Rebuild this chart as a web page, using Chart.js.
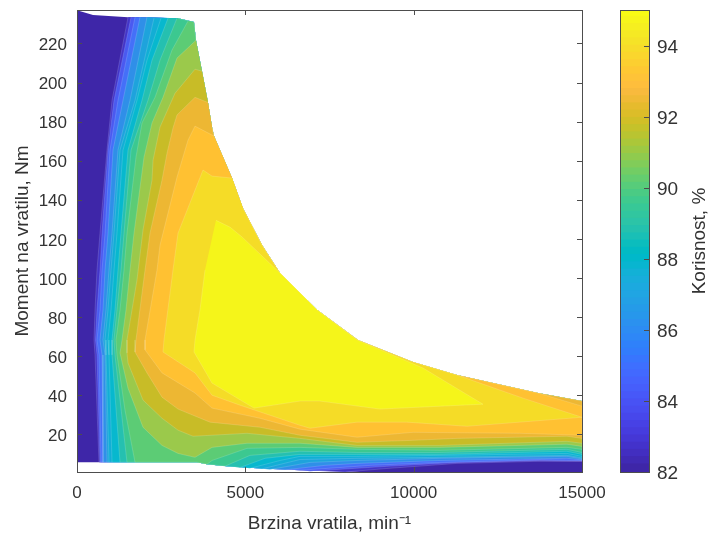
<!DOCTYPE html>
<html>
<head>
<meta charset="utf-8">
<style>
html,body{margin:0;padding:0;background:#fff;}
#wrap{position:relative;width:712px;height:538px;}
canvas{position:absolute;top:0;}
#main{left:0;}
#bar{left:600px;}
</style>
<script src="https://cdn.jsdelivr.net/npm/chart.js@4/dist/chart.umd.js"></script>
</head>
<body>
<div id="wrap"><canvas id="main" width="712" height="538"></canvas><canvas id="bar" width="112" height="538"></canvas></div>
<script>
const xTicks = [0, 5000, 10000, 15000];
const yTicks = [20, 40, 60, 80, 100, 120, 140, 160, 180, 200, 220];
const barTicks = [82, 84, 86, 88, 90, 92, 94];
const xLabel = 'Brzina vratila, min\u207B\u00B9';
const yLabel = 'Moment na vratilu, Nm';
const barLabel = 'Korisnost, %';

// operating-region boundary (speed min^-1, torque Nm)
const outline = [[0,237],[475,234.5],[1515,233.4],[3000,232.9],[3475,230.9],[3534,221.6],[3713,205.8],[3891,189.8],[4010,177.2],[4069,172.6],[4604,151.1],[4930,135.7],[5495,116.8],[6029,102.5],[7128,83.7],[8346,68.3],[9979,57],[11286,50.3],[13692,41.1],[15000,37]];
const floorLine = [[15000,0.7],[8405,0.7],[6623,1.6],[5346,2.6],[4455,3.7],[3861,4.7],[3564,5.7],[0,5.7]];

// iso-efficiency lines: left arm and (where the line meets the floor) right arm
const iso83 = [[1515,233.4],[1040,190.9],[891,165.4],[683,122.9],[594,104],[535,83.7],[505,68.3],[535,60.6],[653,5.7]];
const arm83 = [[7960,0.7],[9207,2.5],[11286,5.1],[13543,6.1],[15000,6.1]];
const iso84 = [[1604,233.4],[1099,190.9],[921,165.4],[743,122.9],[683,104],[594,83.7],[549,68.3],[594,60.6],[683,5.7]];
const arm84 = [[6920,1.1],[9207,3.6],[11286,5.6],[13751,6.6],[15000,6.3]];
const iso85 = [[1723,233.4],[1218,190.9],[980,165.4],[832,122.9],[743,104],[683,83.7],[594,68.3],[653,60.6],[713,5.7]];
const arm85 = [[6623,1.6],[7811,3],[8702,4.1],[10781,5.6],[13751,6.9],[15000,6.6]];
const iso86 = [[1871,233.4],[1366,190.9],[1069,165.4],[921,122.9],[832,104],[772,83.7],[683,68.3],[743,60.6],[772,5.7]];
const arm86 = [[6178,1.8],[7366,4.1],[8316,5.1],[10781,6.6],[14553,7.7],[15000,6.9]];
const iso87 = [[2079,233.4],[1574,190.9],[1218,165.4],[1040,122.9],[950,104],[861,83.7],[772,68.3],[832,60.6],[891,5.7]];
const arm87 = [[5732,2],[6920,5.6],[8316,6.6],[10781,7.7],[14553,8.7],[15000,7.4]];
const iso875 = [[2287,232.9],[1723,190.9],[1277,165.4],[1099,122.9],[1010,104],[921,83.7],[832,68.3],[861,60.6],[950,5.7]];
const arm875 = [[5495,2.3],[6623,7.1],[8316,7.7],[10781,8.2],[14553,9.2],[15000,7.9]];
const iso88 = [[2495,232.9],[2079,211.4],[1782,190.9],[1366,165.4],[1188,122.9],[1099,104],[1010,83.7],[921,68.3],[950,60.6],[1040,5.7]];
const arm88 = [[5138,2.6],[6029,6.6],[6623,8.7],[8316,8.7],[10781,9.2],[14553,10.2],[15000,8.7]];
const iso888 = [[2703,232.9],[2228,211.4],[1931,190.9],[1515,165.4],[1307,122.9],[1218,104],[1129,83.7],[1040,68.3],[1040,60.6],[1277,5.7]];
const arm888 = [[4841,3],[5584,7.7],[6623,9.7],[8316,9.7],[10781,9.7],[14553,11.3],[15000,9.7]];
const iso896 = [[2970,232.9],[2465,211.4],[2109,190.9],[1604,165.4],[1396,122.9],[1307,104],[1188,83.7],[1099,68.3],[1129,60.6],[1485,5.7]];
const arm896 = [[4396,3.7],[5138,9.2],[6623,11.3],[8316,10.7],[10781,10.7],[14553,12.3],[15000,10.7]];
const iso90 = [[3297,231.4],[2822,216.6],[2317,192.4],[1931,179.3],[1752,161.8],[1485,122.9],[1396,104],[1277,83.7],[1158,68.3],[1188,60.6],[1426,32.3],[1723,5.7]];
const arm90 = [[3861,4.7],[4010,6.6],[5049,12.8],[6623,13.3],[8316,12.3],[10781,11.8],[14553,13.3],[15000,12.3]];
const iso91 = [[3534,221.6],[2970,212.5],[2554,192.4],[2228,179.3],[1990,161.8],[1693,122.9],[1574,104],[1455,83.7],[1337,68.3],[1277,61.6],[1515,43.6],[1960,23.6],[2525,14.3],[3000,10.2],[3505,8.2],[4010,13.3],[5049,15.4],[6623,15.4],[8316,13.3],[10781,13.3],[14553,14.9],[15000,13.8]];
const iso92 = [[3713,205.8],[3505,206.8],[2911,194.5],[2465,177.2],[2258,160.2],[2228,150.1],[1960,124.5],[1782,99],[1485,68.3],[1485,61.6],[1515,56.5],[1960,37.5],[2525,28.2],[3000,22.1],[3445,19],[5049,20.5],[6623,17.9],[8316,14.3],[10781,14.3],[14553,16.4],[15000,15.4]];
const iso925 = [[3891,189.8],[3505,192.4],[2970,183.4],[2851,176.7],[2673,163.8],[2525,150.1],[2168,122.9],[2020,104],[1752,68.3],[1723,62.1],[2079,51.4],[2525,39],[3000,32.9],[3950,26.2],[5435,23.6],[6623,19.5],[8316,15.9],[9979,16.9],[11286,17.9],[14553,19],[15000,17.9]];
const iso93 = [[4069,172.6],[3505,177.7],[3297,170.5],[2970,151.6],[2465,116.8],[2376,104],[2020,68.3],[2020,63.2],[2525,51.4],[3505,41.1],[4010,33.4],[5435,28.2],[6623,22.6],[8316,18.5],[9979,21],[13157,20.5],[15000,19.5],[15000,34.4],[13692,41.1]];
const iso94 = [[4604,151.1],[4010,152.1],[3742,155.2],[3000,122.9],[2851,104],[2584,68.3],[2554,62.1],[3505,51.4],[4010,40],[4841,34.9],[6623,24.6],[6920,23.1],[8316,26.2],[9801,26.2],[11583,24.1],[15000,28.7],[13246,38.5],[11286,50.3]];
const iso95 = [[4128,129.5],[4544,126],[4901,121],[6029,102.5],[7128,83.7],[8316,68.3],[10276,53.9],[12058,35.4],[8999,32.9],[7217,37],[6623,37],[5257,33.4],[4010,46.2],[3475,62.1],[3505,68.3],[3653,83.7],[3802,104]];

const parula = [[.2422,.1504,.6603],[.2504,.165,.7076],[.2578,.1818,.7511],[.2647,.1978,.7952],[.2706,.2147,.8364],[.2751,.2342,.871],[.2783,.2559,.8991],[.2803,.2782,.9221],[.2813,.3006,.9414],[.281,.3228,.9579],[.2795,.3447,.9717],[.276,.3667,.9829],[.2699,.3892,.9906],[.2602,.4123,.9952],[.244,.4358,.9988],[.2206,.4603,.9973],[.1963,.4847,.9892],[.1834,.5074,.9798],[.1786,.5289,.9682],[.1764,.5499,.952],[.1687,.5703,.9359],[.154,.5902,.9218],[.146,.6091,.9079],[.138,.6276,.8973],[.1248,.6459,.8883],[.1113,.6635,.8763],[.0952,.6798,.8598],[.0689,.6948,.8394],[.0297,.7082,.8163],[.0036,.7203,.7917],[.0067,.7312,.766],[.0433,.7411,.7394],[.0964,.75,.712],[.1408,.7584,.6842],[.1717,.767,.6554],[.1938,.7758,.6251],[.2161,.7843,.5923],[.247,.7918,.5567],[.2906,.7973,.5188],[.3406,.8008,.4789],[.3909,.8029,.4354],[.4456,.8024,.3909],[.5044,.7993,.348],[.5616,.7942,.3045],[.6174,.7876,.2612],[.672,.7793,.2227],[.7242,.7698,.191],[.7738,.7598,.1646],[.8203,.7498,.1535],[.8634,.7406,.1596],[.9035,.733,.1774],[.9393,.7288,.21],[.9728,.7298,.2394],[.9956,.7434,.2371],[.997,.7659,.2199],[.9952,.7861,.199],[.9892,.8136,.1885],[.9786,.8386,.1766],[.9676,.8639,.1643],[.961,.889,.1537],[.9597,.9135,.1423],[.9628,.9373,.1265],[.9691,.9606,.1064],[.9769,.9839,.0805]];
const rgb = c => 'rgb(' + c.map(v => Math.round(v * 255)).join(',') + ')';

function region(iso, arm) {
  const pts = iso.slice();
  if (arm) {
    const x1 = iso[iso.length - 1][0], x2 = arm[0][0];
    pts.push(...floorLine.filter(p => p[0] > x1 && p[0] < x2).reverse());
    pts.push(...arm);
  }
  const xs = iso[0][0], xe = pts[pts.length - 1][0];
  pts.push(...outline.filter(p => p[0] > xs && p[0] <= xe).reverse());
  return pts;
}

const bands = [
  ['<82', outline.concat(floorLine), '#3E26A8'],
  ['83', region(iso83, arm83), '#4335C8'],
  ['84', region(iso84, arm84), '#4A5AF0'],
  ['85', region(iso85, arm85), '#4470F8'],
  ['86', region(iso86, arm86), '#2F8FE8'],
  ['87', region(iso87, arm87), '#1EA3DC'],
  ['87.5', region(iso875, arm875), '#12AED5'],
  ['88', region(iso88, arm88), '#07B8CE'],
  ['88.8', region(iso888, arm888), '#25C0B0'],
  ['89.6', region(iso896, arm896), '#3CC890'],
  ['90', region(iso90, arm90), '#5CCC75'],
  ['91', region(iso91), '#9BC94B'],
  ['92', region(iso92), '#C8BC27'],
  ['92.5', region(iso925), '#EDB733'],
  ['93', region(iso93), '#FFC132'],
  ['94', region(iso94), '#F5DC27'],
  ['95', iso95, '#F5F51A']
];

const FONT = 'Liberation Sans';
const TXT = '#333333';
const FRAME = '#4d4d4d';

const framePlugin = {
  id: 'frame',
  afterDraw(chart) {
    const {ctx, chartArea: a, scales} = chart;
    ctx.save();
    ctx.strokeStyle = FRAME;
    ctx.lineWidth = 1;
    ctx.strokeRect(a.left + .5, a.top + .5, a.right - a.left, a.bottom - a.top);
    ctx.beginPath();
    for (const t of scales.x.ticks || []) {
      if (chart.canvas.id !== 'main') break;
      const x = Math.round(scales.x.getPixelForValue(t.value)) + .5;
      ctx.moveTo(x, a.bottom); ctx.lineTo(x, a.bottom - 5);
      ctx.moveTo(x, a.top); ctx.lineTo(x, a.top + 5);
    }
    for (const t of scales.y.ticks) {
      const y = Math.round(scales.y.getPixelForValue(t.value)) + .5;
      if (chart.canvas.id === 'main') { ctx.moveTo(a.left, y); ctx.lineTo(a.left + 5, y); }
      ctx.moveTo(a.right, y); ctx.lineTo(a.right - 5, y);
    }
    ctx.stroke();
    ctx.restore();
  }
};

new Chart(document.getElementById('main'), {
  type: 'scatter',
  data: {
    datasets: bands.map((b, i) => ({
      label: b[0],
      data: b[1].map(p => ({x: p[0], y: p[1]})),
      showLine: true,
      fill: 'shape',
      backgroundColor: b[2],
      borderColor: i ? 'rgba(255,255,255,0.25)' : 'rgba(0,0,0,0)',
      borderWidth: 0.6,
      pointRadius: 0,
      tension: 0,
      order: bands.length - i
    }))
  },
  options: {
    responsive: false,
    animation: false,
    layout: {padding: {left: 0, right: 130, top: 10, bottom: 0}},
    plugins: {legend: {display: false}, tooltip: {enabled: false}},
    scales: {
      x: {
        type: 'linear', min: 0, max: 15000,
        afterBuildTicks: s => { s.ticks = xTicks.map(v => ({value: v})); },
        afterFit: s => { s.height = 66; s.paddingLeft = 0; s.paddingRight = 0; },
        grid: {display: false, drawTicks: false},
        border: {display: false},
        ticks: {color: TXT, font: {family: FONT, size: 17}, padding: 11, maxRotation: 0, autoSkip: false, callback: v => String(v)},
        title: {display: true, text: xLabel, color: TXT, font: {family: FONT, size: 19}, padding: {top: 4, bottom: 3}}
      },
      y: {
        type: 'linear', min: 0.7, max: 237.1,
        afterBuildTicks: s => { s.ticks = yTicks.map(v => ({value: v})); },
        afterFit: s => { s.width = 77; s.paddingTop = 0; s.paddingBottom = 0; },
        grid: {display: false, drawTicks: false},
        border: {display: false},
        ticks: {color: TXT, font: {family: FONT, size: 17}, padding: 10, labelOffset: 2, autoSkip: false},
        title: {display: true, text: yLabel, color: TXT, font: {family: FONT, size: 19}, padding: {top: 11, bottom: 0}}
      }
    }
  },
  plugins: [framePlugin]
});

const step = 13 / parula.length;
new Chart(document.getElementById('bar'), {
  type: 'bar',
  data: {
    labels: [''],
    datasets: parula.map((c, i) => ({
      label: String(i),
      data: [[82 + i * step, Math.min(95, 82 + (i + 1) * step + 0.03)]],
      backgroundColor: rgb(c),
      borderWidth: 0,
      barPercentage: 1,
      categoryPercentage: 1
    }))
  },
  options: {
    responsive: false,
    animation: false,
    layout: {padding: {left: 20, right: 0, top: 10, bottom: 66}},
    plugins: {legend: {display: false}, tooltip: {enabled: false}},
    scales: {
      x: {stacked: true, display: false},
      y: {
        type: 'linear', position: 'right', min: 82, max: 95,
        afterBuildTicks: s => { s.ticks = barTicks.map(v => ({value: v})); },
        afterFit: s => { s.width = 63; s.paddingTop = 0; s.paddingBottom = 0; },
        grid: {display: false, drawTicks: false},
        border: {display: false},
        ticks: {color: TXT, font: {family: FONT, size: 19}, padding: 8, labelOffset: 2, autoSkip: false}
      }
    }
  },
  plugins: [framePlugin, {
    id: 'barTitle',
    afterDraw(chart) {
      const {ctx} = chart;
      ctx.save();
      ctx.translate(100, (chart.chartArea.top + chart.chartArea.bottom) / 2);
      ctx.rotate(-Math.PI / 2);
      ctx.font = '19px "' + FONT + '"';
      ctx.fillStyle = TXT;
      ctx.textAlign = 'center';
      ctx.textBaseline = 'middle';
      ctx.fillText(barLabel, 0, 0);
      ctx.restore();
    }
  }]
});
</script>
</body>
</html>
